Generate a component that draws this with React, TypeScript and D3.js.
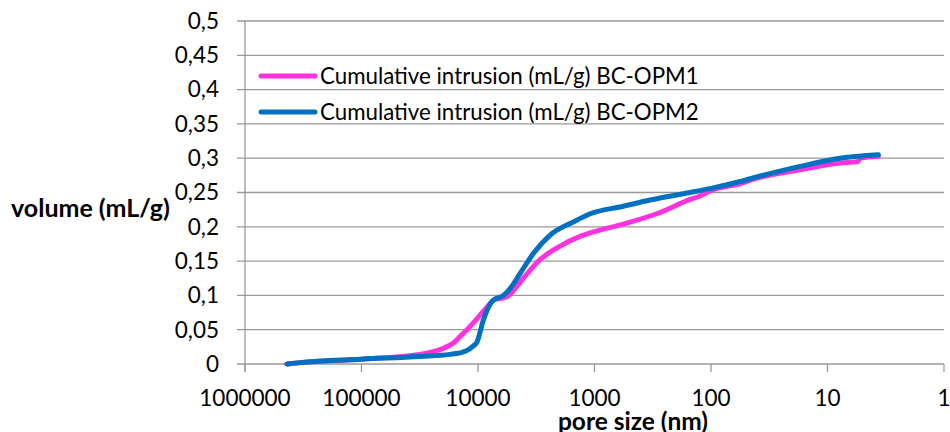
import React from "react";
import * as d3 from "d3";

const xTicks = [1000000, 100000, 10000, 1000, 100, 10, 1];
const yTicks = [0, 0.05, 0.1, 0.15, 0.2, 0.25, 0.3, 0.35, 0.4, 0.45, 0.5];
const seriesNames = [
  "Cumulative intrusion (mL/g) BC-OPM1",
  "Cumulative intrusion (mL/g) BC-OPM2",
];
const seriesColors = ["#FF33DD", "#0070C0"];

// [pore size (nm), cumulative intrusion (mL/g)]
const opm1: [number, number][] = [
  [436000, 0], [337000, 0.002], [100000, 0.007], [31500, 0.014], [21200, 0.021],
  [15750, 0.0325], [14280, 0.04], [12940, 0.047], [10200, 0.066], [7890, 0.088],
  [7390, 0.093], [5670, 0.098], [4085, 0.125], [2937, 0.152], [2110, 0.169],
  [1331, 0.186], [1093, 0.191], [566, 0.204], [292, 0.219], [151, 0.24],
  [124, 0.245], [100, 0.253], [56, 0.263], [46, 0.268], [17.2, 0.283],
  [7.8, 0.293], [5.47, 0.295], [5.26, 0.3], [3.66, 0.303],
];
const opm2: [number, number][] = [
  [436000, 0], [337000, 0.002], [100000, 0.007], [31500, 0.011], [17400, 0.014],
  [12700, 0.019], [11000, 0.026], [10200, 0.032], [9000, 0.064], [7400, 0.093],
  [6050, 0.1], [5300, 0.11], [4350, 0.132], [3350, 0.161], [2400, 0.188],
  [1520, 0.207], [1090, 0.219], [566, 0.23], [334, 0.239], [151, 0.25],
  [100, 0.256], [56, 0.266], [46, 0.27], [17.2, 0.288], [7.8, 0.3], [3.66, 0.305],
];
const series = [opm1, opm2];

const FONT = "Lato, 'Open Sans', sans-serif";

export default function App() {
  const W = 950, H = 432;
  const left = 245, right = 944, top = 21, bottom = 364;
  const x = d3.scaleLog().domain([1000000, 1]).range([left, right]);
  const y = d3.scaleLinear().domain([0, 0.5]).range([bottom, top]);
  const line = d3
    .line<[number, number]>()
    .x((d) => x(d[0]))
    .y((d) => y(d[1]))
    .curve(d3.curveMonotoneX);
  const grid = "#999999";
  const fmt = (v: number) => String(+v.toFixed(2)).replace(".", ",");

  return (
    <svg width={W} height={H} style={{ position: "absolute", left: 0, top: 0, background: "#fff" }}>
      {yTicks.map((t) => (
        <line key={"g" + t} x1={left - 8} x2={right} y1={y(t)} y2={y(t)} stroke={grid} strokeWidth={1.3} />
      ))}
      <line x1={left} x2={left} y1={top} y2={bottom + 8} stroke={grid} strokeWidth={1.3} />
      {xTicks.map((t) => (
        <line key={"xt" + t} x1={x(t)} x2={x(t)} y1={bottom} y2={bottom + 8} stroke={grid} strokeWidth={1.3} />
      ))}
      {yTicks.map((t) => (
        <text key={"yl" + t} x={219} y={y(t)} dy="0.35em" textAnchor="end" fontFamily={FONT} fontSize={22.5} fill="#000">
          {fmt(t)}
        </text>
      ))}
      {xTicks.map((t) => (
        <text key={"xl" + t} x={x(t)} y={398} dy="0.35em" textAnchor="middle" fontFamily={FONT} fontSize={22.5} fill="#000">
          {String(t)}
        </text>
      ))}
      {series.map((s, i) => (
        <path key={"s" + i} d={line([...s].sort((a, b) => b[0] - a[0])) || ""} fill="none" stroke={seriesColors[i]} strokeWidth={5} strokeLinecap="round" strokeLinejoin="round" />
      ))}
      {seriesNames.map((n, i) => (
        <g key={"lg" + i}>
          <line x1={261} x2={315} y1={76 + i * 36} y2={76 + i * 36} stroke={seriesColors[i]} strokeWidth={5} strokeLinecap="round" />
          <text x={320} y={76 + i * 36} dy="0.35em" fontFamily={FONT} fontSize={22.3} fill="#000">
            {n}
          </text>
        </g>
      ))}
      <text x={11} y={217} fontFamily={FONT} fontWeight="bold" fontSize={25} fill="#000">
        volume (mL/g)
      </text>
      <text x={633} y={430} textAnchor="middle" fontFamily={FONT} fontWeight="bold" fontSize={24.5} fill="#000">
        pore size (nm)
      </text>
    </svg>
  );
}
